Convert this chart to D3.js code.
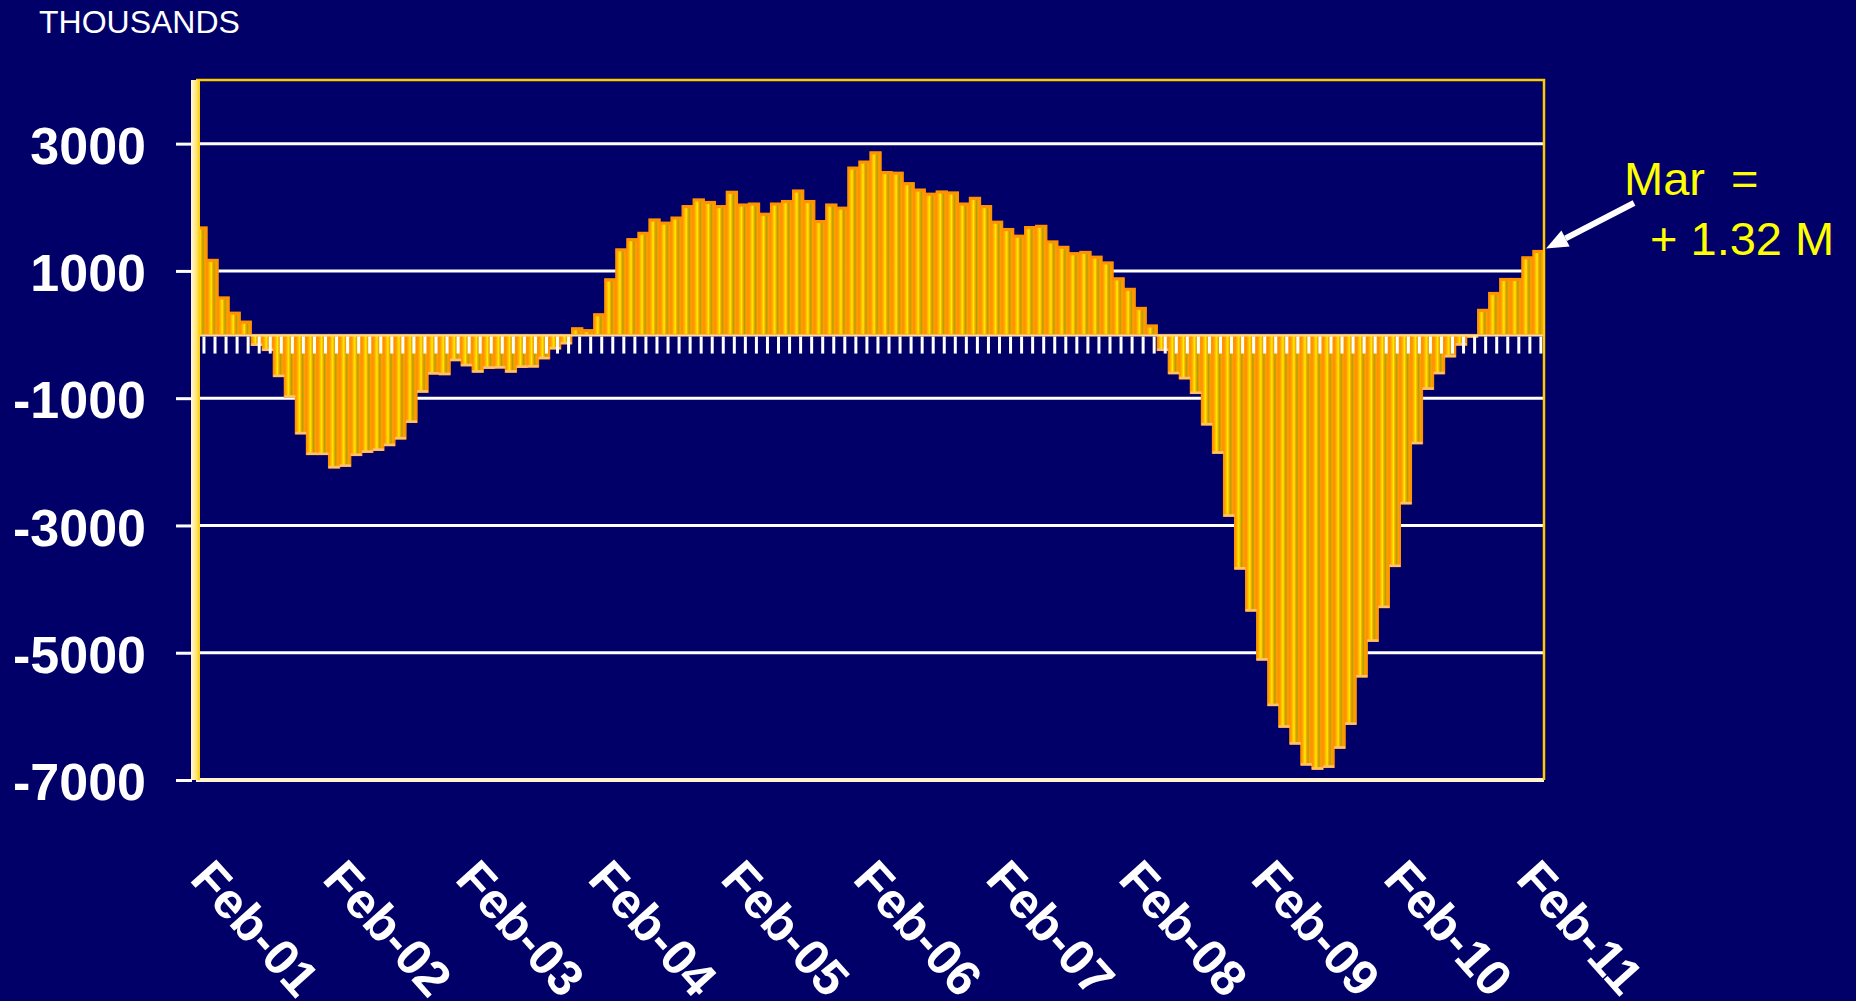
<!DOCTYPE html>
<html>
<head>
<meta charset="utf-8">
<script src="https://cdn.jsdelivr.net/npm/d3@7"></script>
<style>
  html, body { margin: 0; padding: 0; background: #000068; }
  svg { display: block; }
  text { font-family: "Liberation Sans", Arial, sans-serif; }
</style>
</head>
<body>
<div id="chart"></div>
<script>
// 12-month change (thousands), one array per year, Feb-01 .. Mar-11
const y2001 = [1690, 1180, 590, 350, 210, -170, -250, -660, -985, -1560, -1885];
const y2002 = [-1885, -2095, -2070, -1900, -1850, -1820, -1745, -1640, -1380, -905, -620, -630];
const y2003 = [-410, -490, -590, -530, -525, -590, -515, -510, -380, -225, -145, 105];
const y2004 = [75, 325, 875, 1345, 1505, 1605, 1815, 1765, 1845, 2025, 2130, 2090];
const y2005 = [2025, 2250, 2050, 2065, 1905, 2065, 2105, 2270, 2105, 1790, 2050, 2000];
const y2006 = [2630, 2725, 2870, 2560, 2550, 2385, 2285, 2220, 2255, 2240, 2065, 2155];
const y2007 = [2025, 1780, 1665, 1560, 1695, 1715, 1470, 1385, 1285, 1305, 1230, 1140];
const y2008 = [890, 725, 425, 150, -250, -615, -695, -925, -1420, -1865, -2855, -3685];
const y2009 = [-4345, -5115, -5830, -6170, -6435, -6765, -6830, -6800, -6500, -6125, -5380, -4820];
const y2010 = [-4290, -3645, -2660, -1715, -860, -615, -350, -165, -40, 395, 660, 880];
const y2011 = [880, 1220, 1320];

const tickLabels = ["Feb-01", "Feb-02", "Feb-03", "Feb-04", "Feb-05", "Feb-06",
                    "Feb-07", "Feb-08", "Feb-09", "Feb-10", "Feb-11"];
const yTicks = [3000, 1000, -1000, -3000, -5000, -7000];
const yDomain = [-7000, 4000];
const noteLines = ["Mar  =", "+ 1.32 M"];

const values = [].concat(y2001, y2002, y2003, y2004, y2005, y2006, y2007, y2008, y2009, y2010, y2011);
const fmt = d3.timeFormat("%b-%y");
const categories = d3.timeMonth.range(new Date(2001, 1, 1), new Date(2011, 3, 1)).map(fmt);

const width = 1856, height = 1001;
const plot = {left: 196, right: 1544, top: 80, bottom: 780};

const svg = d3.select("#chart")
    .append("svg")
    .attr("width", width)
    .attr("height", height);

svg.append("rect")
    .attr("width", width)
    .attr("height", height)
    .attr("fill", "#000068");

const defs = svg.append("defs");

// stripes across each bar: orange edge, yellow light, olive shade
const barGrad = defs.append("linearGradient").attr("id", "barFill");
[[0, "#ff9400"], [0.14, "#ffa300"], [0.28, "#ffcc00"], [0.38, "#ffee00"],
 [0.48, "#ffb000"], [0.64, "#b3a000"], [0.8, "#ffa000"], [1, "#ff9000"]].forEach(function(s) {
    barGrad.append("stop").attr("offset", s[0]).attr("stop-color", s[1]);
});

const axisGrad = defs.append("linearGradient").attr("id", "axisFill");
[[0, "#fff8dc"], [0.5, "#ffe98a"], [1, "#ffcc00"]].forEach(function(s) {
    axisGrad.append("stop").attr("offset", s[0]).attr("stop-color", s[1]);
});

const x = d3.scaleBand()
    .domain(categories)
    .range([plot.left, plot.right])
    .padding(0);

const y = d3.scaleLinear()
    .domain(yDomain)
    .range([plot.bottom, plot.top]);

const bw = x.bandwidth();

// gridlines (behind the bars)
svg.append("g")
    .selectAll("line")
    .data(yTicks.filter(function(d) { return d !== yDomain[0]; }))
    .join("line")
    .attr("x1", plot.left)
    .attr("x2", plot.right)
    .attr("y1", function(d) { return y(d); })
    .attr("y2", function(d) { return y(d); })
    .attr("stroke", "#ffffff")
    .attr("stroke-width", 3);

// bars
svg.append("g")
    .selectAll("rect")
    .data(values)
    .join("rect")
    .attr("x", function(d, i) { return x(categories[i]); })
    .attr("width", bw)
    .attr("y", function(d) { return y(Math.max(0, d)); })
    .attr("height", function(d) { return Math.abs(y(d) - y(0)); })
    .attr("fill", "url(#barFill)")
    .attr("stroke", "#ff9200")
    .attr("stroke-width", 1.3);

// light cap at the outer end of the bars
svg.append("g")
    .selectAll("rect")
    .data(values)
    .join("rect")
    .attr("x", function(d, i) { return x(categories[i]); })
    .attr("width", bw)
    .attr("y", function(d) { return d >= 0 ? y(d) : y(d) - 2; })
    .attr("height", 2.5)
    .attr("fill", function(d) { return d >= 0 ? "#ff9200" : "#ffc070"; });

// zero line with the category ticks
svg.append("line")
    .attr("x1", plot.left)
    .attr("x2", plot.right)
    .attr("y1", y(0) + 1)
    .attr("y2", y(0) + 1)
    .attr("stroke", "#ffdca0")
    .attr("stroke-width", 2);

const xAxis = svg.append("g")
    .attr("transform", "translate(" + (bw * 0.22) + "," + (y(0) + 2) + ")")
    .call(d3.axisBottom(x).tickSize(17).tickFormat(""));
xAxis.select(".domain").remove();
xAxis.selectAll(".tick line")
    .attr("stroke", "#ffffff")
    .attr("stroke-width", 3);

// bottom axis line
svg.append("line")
    .attr("x1", plot.left)
    .attr("x2", plot.right)
    .attr("y1", y(yDomain[0]))
    .attr("y2", y(yDomain[0]))
    .attr("stroke", "#fff4cc")
    .attr("stroke-width", 4);

// frame: top and right in yellow
svg.append("path")
    .attr("d", "M" + plot.left + "," + plot.top + "H" + plot.right + "V" + plot.bottom)
    .attr("fill", "none")
    .attr("stroke", "#ffcc00")
    .attr("stroke-width", 2.5);

// left value axis
svg.append("rect")
    .attr("x", plot.left - 5)
    .attr("y", plot.top)
    .attr("width", 9)
    .attr("height", plot.bottom - plot.top)
    .attr("fill", "url(#axisFill)");

// plain hyphen minus, no thousands separator
const yAxis = svg.append("g")
    .attr("transform", "translate(" + (plot.left - 4) + ",0)")
    .call(d3.axisLeft(y).tickValues(yTicks).tickSize(16).tickPadding(30)
        .tickFormat(function(d) { return String(d); }));
yAxis.select(".domain").remove();
yAxis.selectAll(".tick line")
    .attr("stroke", "#ffffff")
    .attr("stroke-width", 3);
yAxis.selectAll(".tick text")
    .attr("fill", "#ffffff")
    .attr("font-size", 52)
    .attr("font-weight", "bold")
    .attr("dy", "0.38em")
    .style("font-family", "'Liberation Sans', Arial, sans-serif");

// rotated month labels
svg.append("g")
    .selectAll("text")
    .data(tickLabels)
    .join("text")
    .attr("transform", function(d) {
        const cx = x(d) + bw / 2;
        return "translate(" + (cx - 13) + ",880) rotate(48)";
    })
    .attr("fill", "#ffffff")
    .attr("font-size", 50)
    .attr("font-weight", "bold")
    .text(function(d) { return d; });

svg.append("text")
    .attr("x", 39)
    .attr("y", 33)
    .attr("fill", "#ffffff")
    .attr("font-size", 32)
    .text("THOUSANDS");

// annotation for the last month
const note = svg.append("g");
note.append("text")
    .attr("x", 1624)
    .attr("y", 195)
    .attr("fill", "#ffff00")
    .attr("font-size", 47)
    .style("white-space", "pre")
    .text(noteLines[0]);
note.append("text")
    .attr("x", 1650)
    .attr("y", 255)
    .attr("fill", "#ffff00")
    .attr("font-size", 47)
    .style("white-space", "pre")
    .text(noteLines[1]);

const tip = [plot.right + 2, y(values[values.length - 1]) - 2];
const tail = [1634, 203];
const dx = tail[0] - tip[0], dy = tail[1] - tip[1];
const len = Math.sqrt(dx * dx + dy * dy);
const ux = dx / len, uy = dy / len;
const headLen = 22, headW = 9;
const base = [tip[0] + ux * headLen, tip[1] + uy * headLen];

note.append("line")
    .attr("x1", tail[0])
    .attr("y1", tail[1])
    .attr("x2", base[0])
    .attr("y2", base[1])
    .attr("stroke", "#ffffff")
    .attr("stroke-width", 6);
note.append("path")
    .attr("d", "M" + tip[0] + "," + tip[1] +
        "L" + (base[0] - uy * headW) + "," + (base[1] + ux * headW) +
        "L" + (base[0] + uy * headW) + "," + (base[1] - ux * headW) + "Z")
    .attr("fill", "#ffffff");
</script>
</body>
</html>
